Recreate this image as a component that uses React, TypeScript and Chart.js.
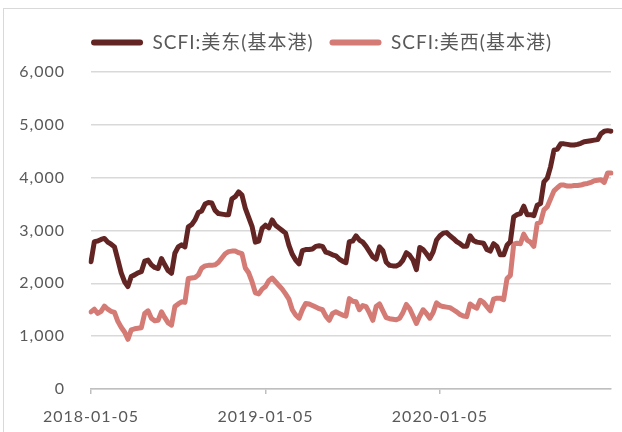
import React, { useEffect, useRef } from 'react';
import { Chart, registerables } from 'chart.js';

Chart.register(...registerables);

// Weekly SCFI index dates (Fridays), 2018-01-05 .. 2020-12-25
const weekLabels: string[] = (() => {
  const out: string[] = [];
  const start = Date.UTC(2018, 0, 5);
  for (let i = 0; i < 156; i++) {
    out.push(new Date(start + i * 7 * 86400000).toISOString().slice(0, 10));
  }
  return out;
})();

const tickIndex = [0, 52, 104];
const tickText = ['2018-01-05', '2019-01-05', '2020-01-05'];

const seriesNames = ['SCFI:美东(基本港)', 'SCFI:美西(基本港)'];

const usEast = [
  2410, 2790, 2800, 2830, 2850, 2780, 2740, 2690, 2450, 2200,
  2030, 1940, 2130, 2160, 2200, 2220, 2420, 2440, 2350, 2300,
  2280, 2470, 2350, 2240, 2190, 2570, 2690, 2730, 2690, 3070,
  3110, 3200, 3340, 3370, 3500, 3530, 3520, 3380, 3320, 3310,
  3300, 3300, 3600, 3640, 3730, 3670, 3420, 3250, 3080, 2780,
  2800, 3040, 3100, 3050, 3200, 3100, 3050, 3000, 2950, 2720,
  2550, 2440, 2370, 2620, 2640, 2640, 2650, 2700, 2710, 2700,
  2590, 2570, 2540, 2520, 2460, 2420, 2390, 2790, 2800, 2900,
  2820, 2780, 2700, 2600, 2500, 2460, 2690, 2620, 2400, 2340,
  2330, 2330, 2360, 2440, 2580, 2530, 2440, 2260, 2680, 2640,
  2560, 2470, 2600, 2820, 2900, 2950, 2960, 2900, 2850, 2790,
  2750, 2700, 2700, 2900, 2810, 2780, 2770, 2760, 2640, 2610,
  2750, 2700, 2540, 2540, 2720, 2790, 3260, 3300, 3320, 3460,
  3300, 3300, 3280, 3480, 3510, 3920, 3990, 4210, 4520, 4540,
  4640, 4640, 4630, 4620, 4620, 4630, 4650, 4680, 4690, 4700,
  4710, 4720, 4830, 4880, 4890, 4880,
];

const usWest = [
  1460, 1510, 1430, 1470, 1570, 1510, 1470, 1450, 1280, 1170,
  1080, 940, 1120, 1140, 1150, 1160, 1430, 1480, 1340, 1290,
  1300, 1460, 1350, 1250, 1210, 1560, 1610, 1650, 1640, 2090,
  2100, 2110, 2160, 2290, 2330, 2340, 2340, 2350, 2400, 2480,
  2560, 2600, 2610, 2610, 2580, 2560, 2290, 2200, 2030, 1820,
  1800, 1890, 1940, 2050, 2100, 2030, 1960, 1890, 1800, 1700,
  1500, 1400, 1340, 1500, 1620, 1610, 1580, 1550, 1520, 1500,
  1380, 1300, 1430, 1460, 1430, 1400, 1380, 1710, 1660, 1650,
  1500, 1580, 1560, 1440, 1300, 1560, 1610, 1480, 1350, 1330,
  1320, 1310, 1340, 1450, 1600, 1520, 1380, 1240, 1380, 1500,
  1430, 1340, 1450, 1630, 1580, 1560, 1550, 1540, 1500, 1460,
  1410, 1380, 1370, 1610, 1560, 1530, 1680, 1640, 1560, 1480,
  1700, 1720, 1720, 1690, 2090, 2150, 2740, 2760, 2750, 2930,
  2820, 2780, 2700, 3130, 3160, 3390, 3450, 3600, 3750, 3810,
  3860, 3860, 3840, 3840, 3850, 3850, 3860, 3880, 3890, 3910,
  3940, 3950, 3960, 3910, 4090, 4090,
];

const colors = ['#632523', '#D47B76'];
const FONT = "Lato, 'Noto Sans CJK SC', sans-serif";
const TEXT = '#595959';

const spacingPlugin = {
  id: 'letterSpacing',
  beforeUpdate(chart: any) {
    chart.ctx.letterSpacing = '1px';
  },
  beforeDraw(chart: any) {
    chart.ctx.letterSpacing = '1px';
  },
  afterLayout(chart: any) {
    // nudge the centred legend to line up with the reference
    if (chart.legend) {
      chart.legend.left += 16;
      chart.legend.right += 16;
    }
  },
};

export default function App() {
  const ref = useRef<HTMLCanvasElement | null>(null);

  useEffect(() => {
    if (!ref.current) return;
    const chart = new Chart(ref.current, {
      type: 'line',
      data: {
        labels: weekLabels,
        datasets: [
          {
            label: seriesNames[0],
            data: usEast,
            borderColor: colors[0],
            backgroundColor: colors[0],
            borderWidth: 5,
            pointRadius: 0,
            tension: 0,
            borderJoinStyle: 'round',
            borderCapStyle: 'round',
          },
          {
            label: seriesNames[1],
            data: usWest,
            borderColor: colors[1],
            backgroundColor: colors[1],
            borderWidth: 5,
            pointRadius: 0,
            tension: 0,
            borderJoinStyle: 'round',
            borderCapStyle: 'round',
          },
        ],
      },
      options: {
        responsive: false,
        animation: false,
        events: [],
        layout: { padding: { left: 0, right: 11, top: 17, bottom: 0 } },
        plugins: {
          tooltip: { enabled: false },
          subtitle: {
            display: true,
            text: '',
            weight: 500,
            padding: 0,
            font: { size: 10, lineHeight: 1 },
          },
          legend: {
            position: 'top',
            align: 'center',
            labels: {
              color: TEXT,
              font: { family: FONT, size: 19 },
              boxWidth: 52,
              boxHeight: 6,
              padding: 16,
              useBorderRadius: true,
              borderRadius: 3,
              generateLabels: (c: any) =>
                c.data.datasets.map((d: any, i: number) => ({
                  text: d.label,
                  fillStyle: colors[i],
                  strokeStyle: colors[i],
                  lineWidth: 0,
                  borderRadius: 3,
                  fontColor: TEXT,
                  datasetIndex: i,
                  hidden: false,
                })),
            },
          },
        },
        scales: {
          x: {
            type: 'category',
            offset: false,
            afterFit: (s: any) => {
              s.height = 43;
            },
            grid: {
              drawOnChartArea: false,
              drawTicks: true,
              tickLength: 5,
              color: '#BFBFBF',
              lineWidth: 1.5,
            },
            border: { display: true, color: '#BFBFBF', width: 1.5 },
            ticks: {
              autoSkip: false,
              maxRotation: 0,
              minRotation: 0,
              padding: 13,
              color: TEXT,
              font: { family: FONT, size: 16 },
              callback: (_v: any, idx: number) => {
                const k = tickIndex.indexOf(idx);
                return k >= 0 ? tickText[k] : null;
              },
            },
          },
          y: {
            min: 0,
            max: 6000,
            afterFit: (s: any) => {
              s.width = 91;
            },
            grid: {
              color: '#D9D9D9',
              lineWidth: 1.5,
              drawTicks: false,
            },
            border: { display: false },
            ticks: {
              stepSize: 1000,
              padding: 26,
              color: TEXT,
              font: { family: FONT, size: 16 },
              callback: (v: any) => Number(v).toLocaleString('en-US'),
            },
          },
        },
      },
      plugins: [spacingPlugin],
    });
    return () => chart.destroy();
  }, []);

  return (
    <div
      style={{
        position: 'absolute',
        left: 0,
        top: 0,
        width: 622,
        height: 432,
        overflow: 'hidden',
        background: '#fff',
      }}
    >
      <div
        style={{
          position: 'absolute',
          left: 3,
          top: 8,
          width: 700,
          height: 500,
          border: '1.5px solid #D9D9D9',
        }}
      />
      <canvas
        ref={ref}
        width={622}
        height={432}
        style={{ position: 'absolute', left: 0, top: 0, width: 622, height: 432 }}
      />
    </div>
  );
}
